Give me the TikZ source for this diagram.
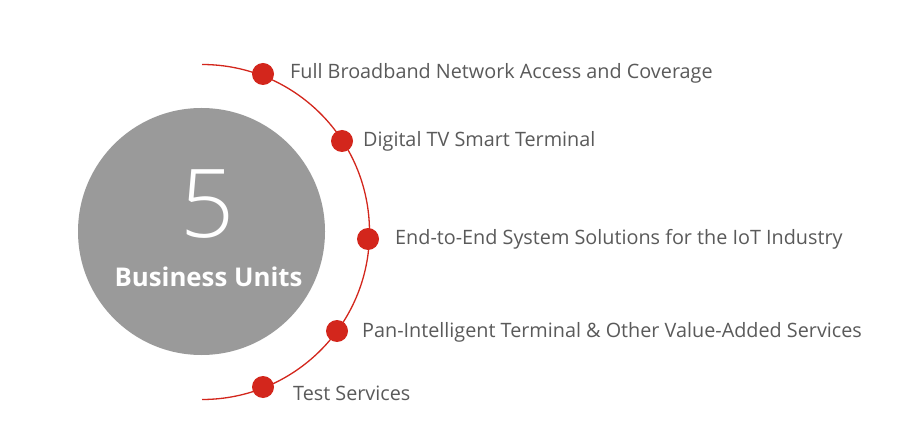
\documentclass[tikz,border=0pt]{standalone}
\usepackage{fontspec}
\setmainfont{Open Sans}
\newfontfamily\lightfont{Open Sans Light}
\definecolor{redc}{HTML}{D3261C}
\definecolor{grayc}{HTML}{9A9A9A}
\definecolor{textc}{HTML}{5A5A5A}
\begin{document}
\begin{tikzpicture}[x=1pt,y=-1pt,
  dotn/.style={circle,fill=redc,inner sep=0pt,minimum size=22pt},
  lbl/.style={anchor=base west,inner sep=0pt,text=textc,font=\fontsize{19.8}{24}\selectfont}]
\useasboundingbox (0,0) rectangle (901,443);
\fill[white] (0,0) rectangle (901,443);
\node[circle,fill=grayc,inner sep=0pt,minimum size=247pt] (hub) at (201.5,231.5) {};
\node[anchor=base,inner sep=0pt,text=white,font=\lightfont\fontsize{95}{95}\selectfont] (five) at (207.5,238) {5};
\node[anchor=base,inner sep=0pt,text=white,font=\bfseries\fontsize{25.8}{30}\selectfont] (bu) at (208.5,287) {Business Units};
\coordinate (top) at (202,64.5);
\draw[redc,line width=1.3pt] (top) arc[start angle=-90,end angle=90,radius=167.5];
\node[dotn] (d1) at (263,74) {};
\node[dotn] (d2) at (342,141) {};
\node[dotn] (d3) at (368,239) {};
\node[dotn] (d4) at (337,331) {};
\node[dotn] (d5) at (263,387) {};
\node[lbl] (t1) at (290,78.5) {Full Broadband Network Access and Coverage};
\node[lbl] (t2) at (363,146.5) {Digital TV Smart Terminal};
\node[lbl] (t3) at (395,244.5) {End-to-End System Solutions for the IoT Industry};
\node[lbl] (t4) at (362,337.5) {Pan-Intelligent Terminal \& Other Value-Added Services};
\node[lbl] (t5) at (293,400.5) {Test Services};
\end{tikzpicture}
\end{document}
